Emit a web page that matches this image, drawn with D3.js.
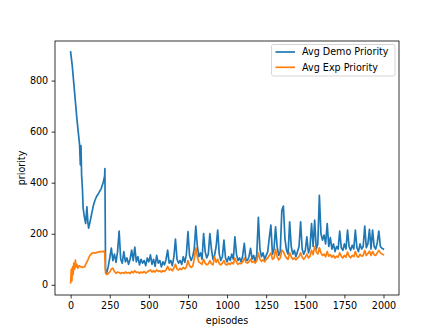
<!DOCTYPE html>
<html>
<head>
<meta charset="utf-8">
<script src="https://cdn.jsdelivr.net/npm/d3@7"></script>
<style>
  html, body { margin: 0; padding: 0; background: #fff; }
  svg { display: block; font-family: "DejaVu Sans", sans-serif; }
</style>
</head>
<body>
<div id="chart"></div>
<script>
// early part, irregular spacing
const demoEarlyEp = [0, 10, 20, 30, 40, 50, 57, 62, 66, 70, 75, 80, 88, 96, 104, 110, 115, 125, 135, 145, 155, 165, 180, 196, 210, 217, 219, 223];
const demoEarlyVal = [912, 860, 790, 720, 650, 590, 550, 470, 545, 430, 380, 300, 265, 240, 305, 245, 222, 250, 280, 310, 330, 345, 360, 378, 405, 425, 455, 60];
const expEarlyEp = [0, 4, 8, 12, 16, 20, 25, 30, 35, 40, 47, 55, 65, 75, 89, 100, 110, 120, 132, 145, 160, 175, 190, 205, 217, 223];
const expEarlyVal = [8, 60, 15, 70, 40, 85, 60, 97, 70, 80, 65, 75, 70, 68, 70, 85, 97, 112, 122, 125, 125, 128, 130, 130, 132, 46];

// episodes 230..1990 step 10, then 1999
const lateEp = d3.range(230, 2000, 10).concat([1999]);
const demoLate = [
  45, 70, 105, 144, 95, 120, 88, 130, 210, 100, 85, 130, 90, 105, 80, 100, 136, 95, 148, 90,
  110, 78, 100, 85, 95, 75, 105, 90, 117, 80, 100, 72, 115, 85, 95, 70, 90, 78, 100, 136,
  85, 95, 75, 110, 179, 100, 85, 95, 80, 110, 88, 120, 208, 115, 95, 110, 140, 230, 150, 110,
  125, 100, 201, 130, 105, 120, 201, 140, 100, 115, 150, 214, 120, 95, 110, 175, 105, 90, 110, 95,
  120, 100, 188, 120, 95, 105, 90, 115, 162, 100, 95, 110, 143, 100, 115, 90, 120, 264, 140, 110,
  125, 100, 115, 130, 185, 234, 120, 140, 227, 150, 115, 130, 292, 308, 180, 135, 120, 247, 150, 120,
  135, 110, 130, 150, 247, 140, 120, 135, 188, 125, 145, 240, 150, 253, 140, 160, 350, 200, 175, 195,
  160, 240, 150, 185, 140, 160, 130, 150, 140, 210, 145, 135, 160, 140, 214, 150, 135, 155, 140, 214,
  145, 130, 160, 140, 150, 230, 145, 160, 217, 140, 214, 150, 140, 165, 210, 150, 143, 140
];
const expLate = [
  40, 43, 50, 62, 65, 52, 45, 50, 48, 44, 48, 45, 50, 46, 48, 44, 52, 47, 55, 48,
  50, 45, 50, 47, 52, 46, 50, 55, 58, 50, 55, 50, 58, 52, 55, 50, 55, 52, 58, 72,
  58, 62, 55, 65, 80, 62, 58, 64, 60, 68, 62, 70, 95, 75, 68, 72, 100, 145, 110, 88,
  85, 80, 100, 85, 78, 82, 95, 82, 78, 110, 88, 100, 82, 78, 85, 95, 80, 78, 85, 80,
  88, 82, 105, 88, 80, 85, 82, 90, 105, 88, 85, 90, 100, 88, 92, 85, 95, 125, 100, 92,
  98, 90, 100, 105, 115, 125, 100, 105, 139, 110, 98, 105, 136, 130, 115, 105, 100, 125, 110, 100,
  105, 98, 105, 110, 125, 108, 100, 108, 120, 105, 112, 135, 118, 150, 130, 120, 145, 125, 115, 120,
  110, 130, 112, 118, 108, 115, 105, 112, 108, 125, 112, 105, 115, 108, 128, 112, 106, 115, 110, 130,
  112, 108, 120, 112, 115, 135, 115, 122, 132, 115, 130, 118, 115, 125, 135, 125, 121, 118
];

const xTicks = [0, 250, 500, 750, 1000, 1250, 1500, 1750, 2000];
const yTicks = [0, 200, 400, 600, 800];

const seriesNames = ["Avg Demo Priority", "Avg Exp Priority"];
const seriesColors = ["#1f77b4", "#ff7f0e"];

const demo = demoEarlyEp.map((e, i) => ({ x: e, y: demoEarlyVal[i] }))
  .concat(lateEp.map((e, i) => ({ x: e, y: demoLate[i] })));
const exp = expEarlyEp.map((e, i) => ({ x: e, y: expEarlyVal[i] }))
  .concat(lateEp.map((e, i) => ({ x: e, y: expLate[i] })));

const W = 443, H = 332;
const plot = { left: 55, right: 399, top: 41, bottom: 295 };

const svg = d3.select("#chart").append("svg")
  .attr("width", W).attr("height", H);

const x = d3.scaleLinear().domain([-100, 2099]).range([plot.left, plot.right]);
const y = d3.scaleLinear().domain([-40, 955]).range([plot.bottom, plot.top]);

svg.append("defs").append("clipPath").attr("id", "clip")
  .append("rect")
  .attr("x", plot.left).attr("y", plot.top)
  .attr("width", plot.right - plot.left).attr("height", plot.bottom - plot.top);

const line = d3.line().x((d) => x(d.x)).y((d) => y(d.y));

[demo, exp].forEach((s, i) => {
  svg.append("path")
    .datum(s)
    .attr("clip-path", "url(#clip)")
    .attr("fill", "none")
    .attr("stroke", seriesColors[i])
    .attr("stroke-width", 1.7)
    .attr("stroke-linejoin", "round")
    .attr("stroke-linecap", "square")
    .attr("d", line);
});

// axes
const xAxis = svg.append("g")
  .attr("transform", `translate(0,${plot.bottom})`)
  .call(d3.axisBottom(x).tickValues(xTicks).tickSize(3.4).tickPadding(3.4).tickFormat(d3.format("d")));
const yAxis = svg.append("g")
  .attr("transform", `translate(${plot.left},0)`)
  .call(d3.axisLeft(y).tickValues(yTicks).tickSize(3.4).tickPadding(3.4).tickFormat(d3.format("d")));

[xAxis, yAxis].forEach((g) => {
  g.select(".domain").remove();
  g.selectAll(".tick line").attr("stroke", "#000").attr("stroke-width", 0.8);
  g.selectAll(".tick text")
    .attr("fill", "#000")
    .attr("font-size", "9.6px")
    .attr("font-family", "DejaVu Sans, sans-serif");
});

// frame
svg.append("rect")
  .attr("x", plot.left).attr("y", plot.top)
  .attr("width", plot.right - plot.left).attr("height", plot.bottom - plot.top)
  .attr("fill", "none").attr("stroke", "#000").attr("stroke-width", 0.8);

// axis labels
svg.append("text")
  .attr("x", (plot.left + plot.right) / 2).attr("y", 323.5)
  .attr("text-anchor", "middle")
  .attr("font-size", "9.6px")
  .text("episodes");

svg.append("text")
  .attr("transform", `translate(25,${(plot.top + plot.bottom) / 2}) rotate(-90)`)
  .attr("text-anchor", "middle")
  .attr("font-size", "9.6px")
  .text("priority");

// legend
const leg = svg.append("g");
leg.append("rect")
  .attr("x", 271.5).attr("y", 44.5)
  .attr("width", 123.5).attr("height", 31.5)
  .attr("rx", 2)
  .attr("fill", "#fff").attr("fill-opacity", 0.8)
  .attr("stroke", "#ccc").attr("stroke-width", 0.8);

seriesNames.forEach((name, i) => {
  const ly = 52 + i * 15.3;
  leg.append("line")
    .attr("x1", 275.5).attr("x2", 295)
    .attr("y1", ly).attr("y2", ly)
    .attr("stroke", seriesColors[i]).attr("stroke-width", 1.7);
  leg.append("text")
    .attr("x", 302).attr("y", ly)
    .attr("dy", "0.35em")
    .attr("font-size", "9.6px")
    .text(name);
});
</script>
</body>
</html>
